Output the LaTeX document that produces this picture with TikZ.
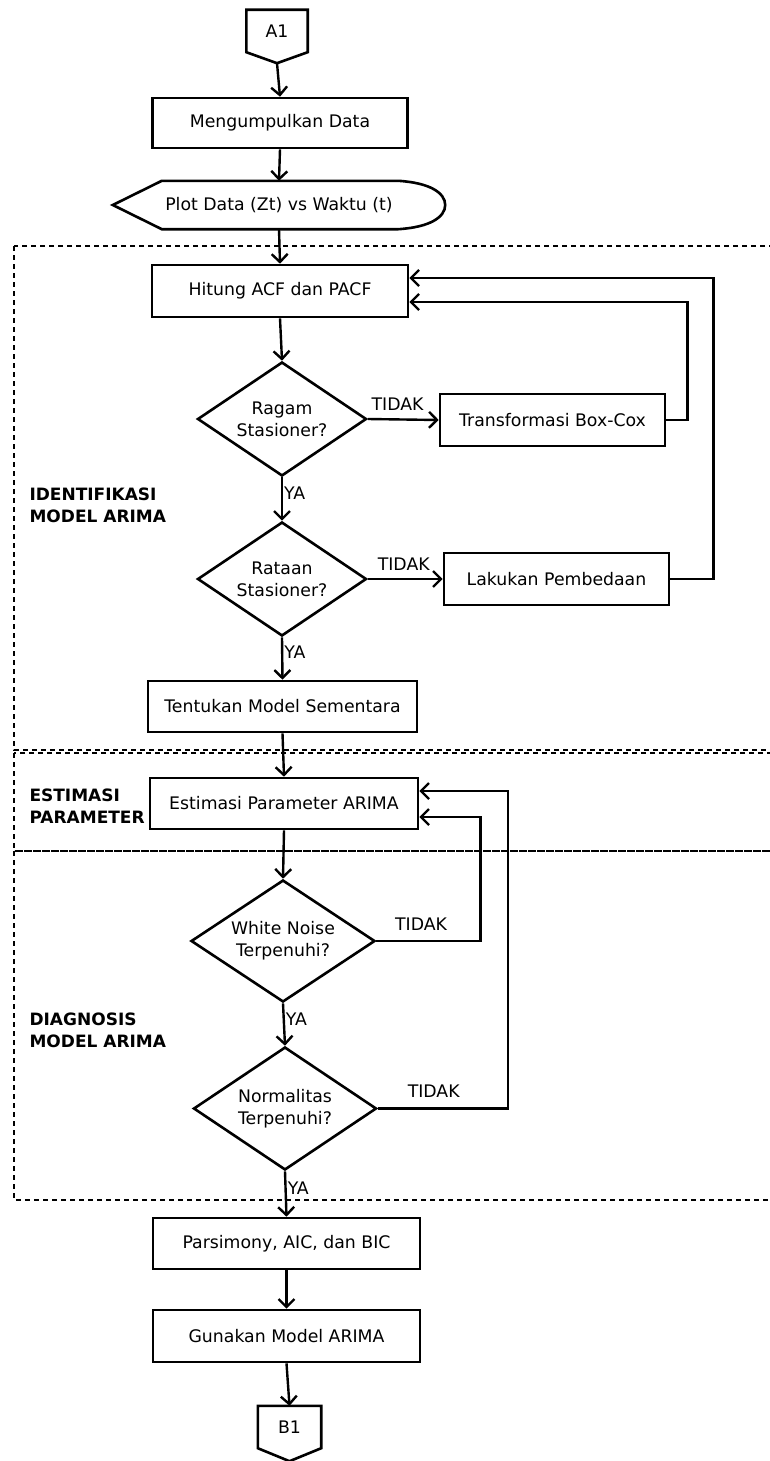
\documentclass[tikz,border=0pt]{standalone}
\usepackage{fontspec}
\setmainfont{DejaVu Sans}
\usepackage{tikz}
\usetikzlibrary{calc}
\usetikzlibrary{arrows.meta}
\usetikzlibrary{shapes.geometric}
\tikzset{>={Straight Barb[length=8pt,width=16pt]}}
\tikzset{process/.style={draw, line width=2.6, minimum height=51, align=center, inner sep=2}}
\tikzset{decision/.style={draw, diamond, aspect=1.5, inner sep=0, line width=2.6, align=center}}
\tikzset{region/.style={line width=2.6, dash pattern=on 5pt off 4pt}}
\tikzset{outline/.style={line width=2.6}}
\tikzset{flow/.style={->, line width=2.4}}
\tikzset{zone/.style={anchor=west, align=left, font=\fontsize{17}{22}\selectfont\bfseries}}

\begin{document}
\begin{tikzpicture}[x=1pt, y=-1pt, font=\fontsize{17.3}{22}\selectfont]
\useasboundingbox (0,0) rectangle (770,1461);
% dashed regions
\draw[region] (14,246) rectangle (790,750);
\draw[region] (14,753) rectangle (790,851);
\draw[region] (14,851) rectangle (790,1200);
\node (identlbl) at (26,505) [zone] {IDENTIFIKASI\\MODEL ARIMA};
\node (estlbl) at (26,806.5) [zone] {ESTIMASI\\PARAMETER};
\node (diaglbl) at (26,1030.5) [zone] {DIAGNOSIS\\MODEL ARIMA};
% off-page connectors
\node (a1) at (277,31) [minimum width=61, minimum height=42, inner sep=0] {A1};
\coordinate (a1tip) at ($(a1.south)+(0,11)$);
\draw[outline] (a1.north west) -- (a1.north east) -- (a1.south east) -- (a1tip) -- (a1.south west) -- cycle;
\node (b1) at (289.5,1427) [minimum width=63, minimum height=42, inner sep=0] {B1};
\coordinate (b1tip) at ($(b1.south)+(0,13)$);
\draw[outline] (b1.north west) -- (b1.north east) -- (b1.south east) -- (b1tip) -- (b1.south west) -- cycle;
% display
\node (plot) at (279,205) [minimum width=332, minimum height=48, inner sep=0] {Plot Data (Zt) vs Waktu (t)};
\draw[outline] (plot.west) -- ($(plot.north west)+(49,0)$) -- ($(plot.north east)+(-47,0)$)
  .. controls ($(plot.north east)+(-15,2)$) and ($(plot.east)+(0,-12)$) .. (plot.east)
  .. controls ($(plot.east)+(0,12)$) and ($(plot.south east)+(-15,-2)$) .. ($(plot.south east)+(-47,0)$)
  -- ($(plot.south west)+(49,0)$) -- cycle;
% steps
\node (collect) at (280,123) [process, minimum width=255, minimum height=50] {Mengumpulkan Data};
\node (hitung) at (280,291) [process, minimum width=256, minimum height=52] {Hitung ACF dan PACF};
\node (ragam) at (282,419) [decision, minimum width=169, minimum height=114] {Ragam\\Stasioner?};
\node (boxcox) at (552.5,420) [process, minimum width=225, minimum height=52] {Transformasi Box-Cox};
\node (rataan) at (282,579) [decision, minimum width=169, minimum height=114] {Rataan\\Stasioner?};
\node (beda) at (556.5,579) [process, minimum width=225, minimum height=52] {Lakukan Pembedaan};
\node (tentukan) at (282.5,706.5) [process, minimum width=269] {Tentukan Model Sementara};
\node (estimasi) at (284,803.5) [process, minimum width=268] {Estimasi Parameter ARIMA};
\node (noise) at (283,941) [decision, minimum width=184, minimum height=122] {White Noise\\Terpenuhi?};
\node (normal) at (285,1108.5) [decision, minimum width=183, minimum height=123] {Normalitas\\Terpenuhi?};
\node (pars) at (286.5,1243.5) [process, minimum width=267] {Parsimony, AIC, dan BIC};
\node (gunakan) at (286.5,1336) [process, minimum width=267, minimum height=52] {Gunakan Model ARIMA};
% connectors
\draw[flow] (a1tip) -- (collect.north);
\draw[flow] (collect.south) -- (plot.north);
\draw[flow] (plot.south) -- (hitung.north);
\draw[flow] (hitung.south) -- (ragam.north);
\draw[flow] (ragam.east) -- node[above=4pt, pos=.42] {TIDAK} (boxcox.west);
\draw[flow] (ragam.south) -- node[anchor=west, pos=.37, inner sep=1] {YA} (rataan.north);
\draw[flow] (rataan.east) -- node[above=4pt, pos=.48] {TIDAK} (beda.west);
\draw[flow] (rataan.south) -- node[anchor=west, pos=.35, inner sep=1] {YA} (tentukan.north);
\draw[flow] (boxcox.east) -- ++(21,0) |- ($(hitung.east)+(0,11)$);
\draw[flow] (beda.east) -- ++(43,0) |- ($(hitung.east)+(0,-13)$);
\draw[flow] (tentukan.south) -- (estimasi.north);
\draw[flow] (estimasi.south) -- (noise.north);
\draw[flow] (noise.east) -- node[above=6pt, pos=.43] {TIDAK} ++(104,0) |- ($(estimasi.east)+(0,13.5)$);
\draw[flow] (noise.south) -- node[anchor=west, pos=.37, inner sep=1] {YA} (normal.north);
\draw[flow] (normal.east) -- node[above=6pt, pos=.43] {TIDAK} ++(130,0) |- ($(estimasi.east)+(0,-12.5)$);
\draw[flow] (normal.south) -- node[anchor=west, pos=.37, inner sep=1] {YA} (pars.north);
\draw[flow] (pars.south) -- (gunakan.north);
\draw[flow] (gunakan.south) -- (b1.north);
\end{tikzpicture}
\end{document}
